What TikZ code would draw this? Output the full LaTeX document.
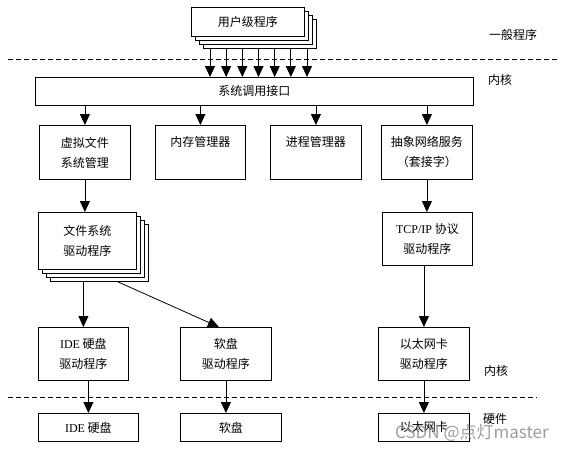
\documentclass[tikz,border=0pt]{standalone}
\usepackage{fontspec}
\setmainfont{Liberation Serif}
\newfontfamily\cjk{Noto Sans CJK SC}
\usetikzlibrary{arrows.meta, shadows}

\tikzset{
  box/.style={draw, line width=0.8pt, fill=white, anchor=north west, inner sep=0pt,
    align=center, font=\cjk\fontsize{12}{20}\selectfont},
  toptext/.style={text height=21pt, text depth=33pt},
  stackbox/.style={box,
    copy shadow={shadow xshift=#1*3pt, shadow yshift=-#1*3pt},
    copy shadow={shadow xshift=#1*2pt, shadow yshift=-#1*2pt},
    copy shadow={shadow xshift=#1pt, shadow yshift=-#1pt}},
  arr/.style={-{Triangle[length=11pt,width=10pt]}, line width=0.8pt},
  sepline/.style={line width=0.8pt, dash pattern=on 5pt off 3pt},
  side/.style={font=\cjk\fontsize{12}{14}\selectfont}
}

\begin{document}
\begin{tikzpicture}[x=1pt, y=-1pt]
    \useasboundingbox (0,0) rectangle (567,448);

    % User level
    \node[stackbox=4, minimum width=113pt, minimum height=29pt] (user) at (191,7) {用户级程序};
    \draw[sepline] (8,59) -- (558,59);
    \node[side] (general) at (513,35) {一般程序};
    \node[side] (kernel) at (500,80) {内核};

    % System call interface
    \node[box, minimum width=438pt, minimum height=28pt] (sys) at (35,77) {系统调用接口};
    \foreach \i in {0,...,6} {
        \path (user.south west) ++(19+16.17*\i,12) coordinate (u\i);
        \draw[arr] (u\i) -- (u\i |- sys.north);
    }

    % Kernel subsystems
    \node[box, minimum width=91pt, minimum height=54pt] (vfs) at (39,125) {虚拟文件\\系统管理};
    \node[box, toptext, minimum width=90pt, minimum height=54pt] (mem) at (155,125) {内存管理器};
    \node[box, toptext, minimum width=91pt, minimum height=54pt] (proc) at (270,125) {进程管理器};
    \node[box, minimum width=91pt, minimum height=54pt] (net) at (381,125) {抽象网络服务\\（套接字）};
    \foreach \n in {vfs,mem,proc,net}
        \draw[arr] (\n.north |- sys.south) -- (\n.north);

    % Drivers
    \node[stackbox=4, minimum width=98pt, minimum height=57pt] (fs) at (38,212) {文件系统\\驱动程序};
    \node[box, minimum width=90pt, minimum height=53pt] (tcp) at (382,212) {{\rmfamily TCP/IP} 协议\\驱动程序};
    \draw[arr] (vfs.south) -- (vfs.south |- fs.north);
    \draw[arr] (net.south) -- (net.south |- tcp.north);

    \node[box, minimum width=90pt, minimum height=53pt] (idedrv) at (38,327) {{\rmfamily IDE} 硬盘\\驱动程序};
    \node[box, minimum width=91pt, minimum height=53pt] (flpdrv) at (180,327) {软盘\\驱动程序};
    \node[box, minimum width=91pt, minimum height=53pt] (ethdrv) at (378,327) {以太网卡\\驱动程序};
    \draw[arr] ([yshift=-12pt]fs.south -| idedrv.north) -- (idedrv.north);
    \draw[arr] ([xshift=-19pt, yshift=-12pt]fs.south east) -- ([xshift=-7pt]flpdrv.north);
    \draw[arr] (tcp.south -| ethdrv.north) -- (ethdrv.north);
    \node[side] (kernel2) at (496,371) {内核};

    % Hardware
    \draw[sepline] (8,397) -- (537,397);
    \node[side] (hw) at (495,419) {硬件};
    \node[box, minimum width=100pt, minimum height=28pt] (idehw) at (38,413) {{\rmfamily IDE} 硬盘};
    \node[box, minimum width=101pt, minimum height=28pt] (flphw) at (180,413) {软盘};
    \node[box, minimum width=91pt, minimum height=28pt] (ethhw) at (378,413) {以太网卡};
    \draw[arr] (idedrv.south -| idehw.north) -- (idehw.north);
    \draw[arr] (flpdrv.south) -- (flpdrv.south |- flphw.north);
    \draw[arr] (ethdrv.south) -- (ethdrv.south |- ethhw.north);

    % Watermark
    \node[anchor=base west, font=\cjk\fontsize{17}{17}\selectfont, text=black!45, opacity=0.85, inner sep=0pt] (wm) at (395,438) {CSDN @点灯master};
\end{tikzpicture}
\end{document}
